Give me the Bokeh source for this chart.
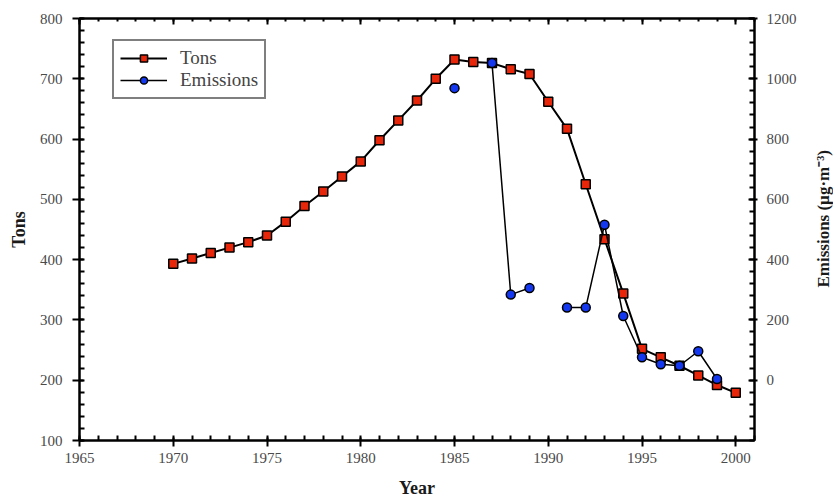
from bokeh.plotting import figure
from bokeh.models import (Range1d, LinearAxis, FixedTicker, Legend, LegendItem,
                          ColumnDataSource, CustomJSTickFormatter, Div)
from bokeh.layouts import row
from bokeh.embed import file_html
from bokeh.resources import INLINE

years = list(range(1970, 2001))
tons = [393, 402, 411, 420, 429, 440, 463, 489, 513, 538, 563, 598, 631, 664, 700,
        732, 728, 726, 716, 708, 662, 617, 525, 434, 344, 252, 238, 224, 208, 192, 179]
nan = float("nan")
emissions = [nan] * 15 + [969, nan, 1052, 284, 306, nan, 241, 241, 516, 213,
                          76, 53, 48, 96, 4, nan]

x_major = list(range(1965, 2001, 5))
x_minor = list(range(1965, 2002))
left_major = list(range(100, 801, 100))
left_minor = list(range(100, 801, 20))
right_major = list(range(0, 1201, 200))
right_minor = list(range(-200, 1201, 40))

FONT = "Liberation Serif"
RED = "#e8260a"
BLUE = "#1438f0"

p = figure(frame_width=675, frame_height=422, output_backend="svg",
           toolbar_location=None, x_range=Range1d(1965, 2001),
           y_range=Range1d(100, 800),
           min_border_left=79, min_border_right=58, min_border_top=18,
           min_border_bottom=58, outline_line_color="black",
           outline_line_width=2)
p.extra_y_ranges = {"em": Range1d(-200, 1200)}
p.xgrid.visible = False
p.ygrid.visible = False
p.background_fill_color = "white"
p.border_fill_color = "white"


def style(ax, major, minor, label="", mi_in=4, mi_out=0, ma_in=6, ma_out=6):
    ax.ticker = FixedTicker(ticks=major, minor_ticks=minor)
    ax.axis_line_color = "black"
    ax.axis_line_width = 2
    ax.major_tick_line_color = "black"
    ax.major_tick_line_width = 2
    ax.minor_tick_line_color = "black"
    ax.minor_tick_line_width = 2
    ax.major_tick_in = ma_in
    ax.major_tick_out = ma_out
    ax.minor_tick_in = mi_in
    ax.minor_tick_out = mi_out
    ax.major_label_text_font = FONT
    ax.major_label_text_font_size = "15px"
    ax.major_label_text_color = "#4a4a4a"
    if label:
        ax.axis_label = label
    ax.axis_label_text_font = FONT
    ax.axis_label_text_font_style = "bold"
    ax.axis_label_text_font_size = "18px"
    ax.axis_label_text_color = "#1a1a1a"


style(p.xaxis[0], x_major, x_minor, "Year", ma_in=3, ma_out=6, mi_in=5)
p.xaxis[0].major_label_standoff = 6
p.xaxis[0].axis_label_standoff = 12
style(p.yaxis[0], left_major, left_minor, "Tons", ma_in=4, ma_out=7, mi_in=5)
p.yaxis[0].major_label_standoff = 10
p.yaxis[0].axis_label_standoff = 8

right = LinearAxis(y_range_name="em")
style(right, right_major, right_minor, "", ma_in=6, ma_out=3, mi_in=5)
right.major_label_standoff = 9
p.add_layout(right, "right")

top = LinearAxis()
style(top, x_major, x_minor, "", ma_in=6, ma_out=0, mi_in=3)
top.formatter = CustomJSTickFormatter(code="return ''")
top.major_label_standoff = 0
p.add_layout(top, "above")

src_t = ColumnDataSource(dict(x=years, y=tons))
src_e = ColumnDataSource(dict(x=years, y=emissions))

lt = p.line("x", "y", source=src_t, line_color="black", line_width=2)
st = p.scatter("x", "y", source=src_t, marker="square", size=9,
               fill_color=RED, line_color="black", line_width=1.5)
le = p.line("x", "y", source=src_e, y_range_name="em", line_color="black",
            line_width=1.5)
se = p.scatter("x", "y", source=src_e, y_range_name="em", marker="circle",
               size=9, fill_color=BLUE, line_color="black", line_width=1.5)

legend = Legend(items=[LegendItem(label="Tons", renderers=[lt, st]),
                       LegendItem(label="Emissions", renderers=[le, se])],
                location=(33, 341), border_line_color="black",
                border_line_width=2, label_text_font=FONT,
                label_text_font_size="19px", label_text_color="#444444",
                glyph_width=47, glyph_height=18, label_height=18,
                label_standoff=13, spacing=0, padding=6, margin=0,
                background_fill_alpha=1)
p.add_layout(legend, "center")

# right-hand axis title, reading bottom-to-top like the left one
em_title = Div(
    text=('<div style="writing-mode: vertical-rl; transform: rotate(180deg); '
          "font-family: 'Liberation Serif', serif; font-weight: bold; "
          'font-size: 17px; line-height: 20px; color: #1a1a1a; '
          'white-space: nowrap; margin: 150px 0 0 2px;">'
          'Emissions (µg·m⁻³)</div>'),
    width=26, height=498, styles={"margin": "0", "padding": "0"})

layout = row(p, em_title, spacing=0)
open("out.html", "w").write(file_html(layout, INLINE))
